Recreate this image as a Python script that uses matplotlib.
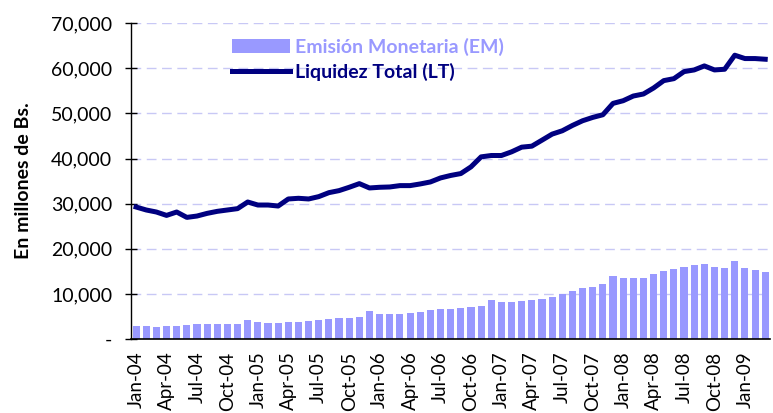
import matplotlib
matplotlib.use("Agg")
import matplotlib.pyplot as plt
import numpy as np
from matplotlib.ticker import FuncFormatter

plt.rcParams["font.family"] = ["Lato", "DejaVu Sans"]

# Monthly series, Jan-04 .. Mar-09 (millones de Bs.)
months = [f"{m}-{y:02d}" for y in range(4, 10) for m in
          ["Jan", "Feb", "Mar", "Apr", "May", "Jun", "Jul", "Aug", "Sep", "Oct", "Nov", "Dec"]][:63]

emision = [2960, 2960, 2740, 2960, 2960, 3190, 3400, 3400, 3400, 3400, 3400, 4300,
           3850, 3630, 3630, 3850, 3850, 4070, 4300, 4520, 4740, 4740, 4960, 6300,
           5630, 5630, 5630, 5850, 6070, 6520, 6740, 6740, 6960, 7190, 7410, 8740,
           8300, 8300, 8520, 8740, 8960, 9410, 10070, 10740, 11410, 11630, 12300, 14070,
           13630, 13630, 13630, 14520, 15190, 15630, 16070, 16520, 16740, 16070, 15850, 17190,
           15850, 15410, 14960]

liquidez = [29260, 28600, 28150, 27400, 28150, 26960, 27260, 27850, 28300, 28600, 28900, 30370,
            29700, 29700, 29480, 31040, 31190, 31040, 31560, 32440, 32890, 33630, 34440, 33480,
            33630, 33700, 34000, 34000, 34370, 34810, 35700, 36250, 36670, 38150, 40370, 40670,
            40670, 41480, 42520, 42740, 44070, 45410, 46150, 47330, 48370, 49110, 49700, 52220,
            52810, 53850, 54300, 55630, 57260, 57700, 59260, 59630, 60520, 59630, 59780, 62890,
            62150, 62150, 62000]

x = np.arange(len(months))

fig = plt.figure(figsize=(7.73, 4.13), dpi=100)
ax = fig.add_axes([0.1695, 0.179, 0.827, 0.765])

bars = ax.bar(x, emision, width=0.7, color="#9999FF", label="Emisión Monetaria (EM)", zorder=2)
line, = ax.plot(x, liquidez, color="#000080", lw=3.6, label="Liquidez Total (LT)", zorder=3,
                solid_joinstyle="round")

ax.set_xlim(-0.5, len(months) - 0.5)
ax.set_ylim(0, 70000)
ax.set_yticks(np.arange(0, 70001, 10000))
ax.yaxis.set_major_formatter(FuncFormatter(lambda v, p: "-" if v == 0 else f"{v:,.0f}"))
ax.set_xticks(x[::3])
ax.set_xticklabels(months[::3], rotation=90, fontsize=13.5)

ax.yaxis.grid(True, color="#c8c8f5", ls=(0, (7, 4)), lw=1)
ax.set_axisbelow(True)

ax.tick_params(axis="y", direction="inout", length=9, width=1, labelsize=14, pad=9)
ax.tick_params(axis="x", length=0, pad=9)

ax.spines["top"].set_visible(False)
ax.spines["right"].set_visible(False)
ax.spines["left"].set_linewidth(1)
ax.spines["bottom"].set_linewidth(1.2)

ax.set_ylabel("En millones de Bs.", fontsize=14, fontweight="bold", labelpad=14)

leg = ax.legend([bars, line], ["Emisión Monetaria (EM)", "Liquidez Total (LT)"],
                loc="upper left", bbox_to_anchor=(0.143, 0.985), frameon=False,
                handlelength=3.0, handletextpad=0.25, labelspacing=0.38,
                borderpad=0, prop={"weight": "bold", "size": 14})
for txt, c in zip(leg.get_texts(), ["#9999FF", "#000080"]):
    txt.set_color(c)

fig.savefig("out.png", dpi=100)
